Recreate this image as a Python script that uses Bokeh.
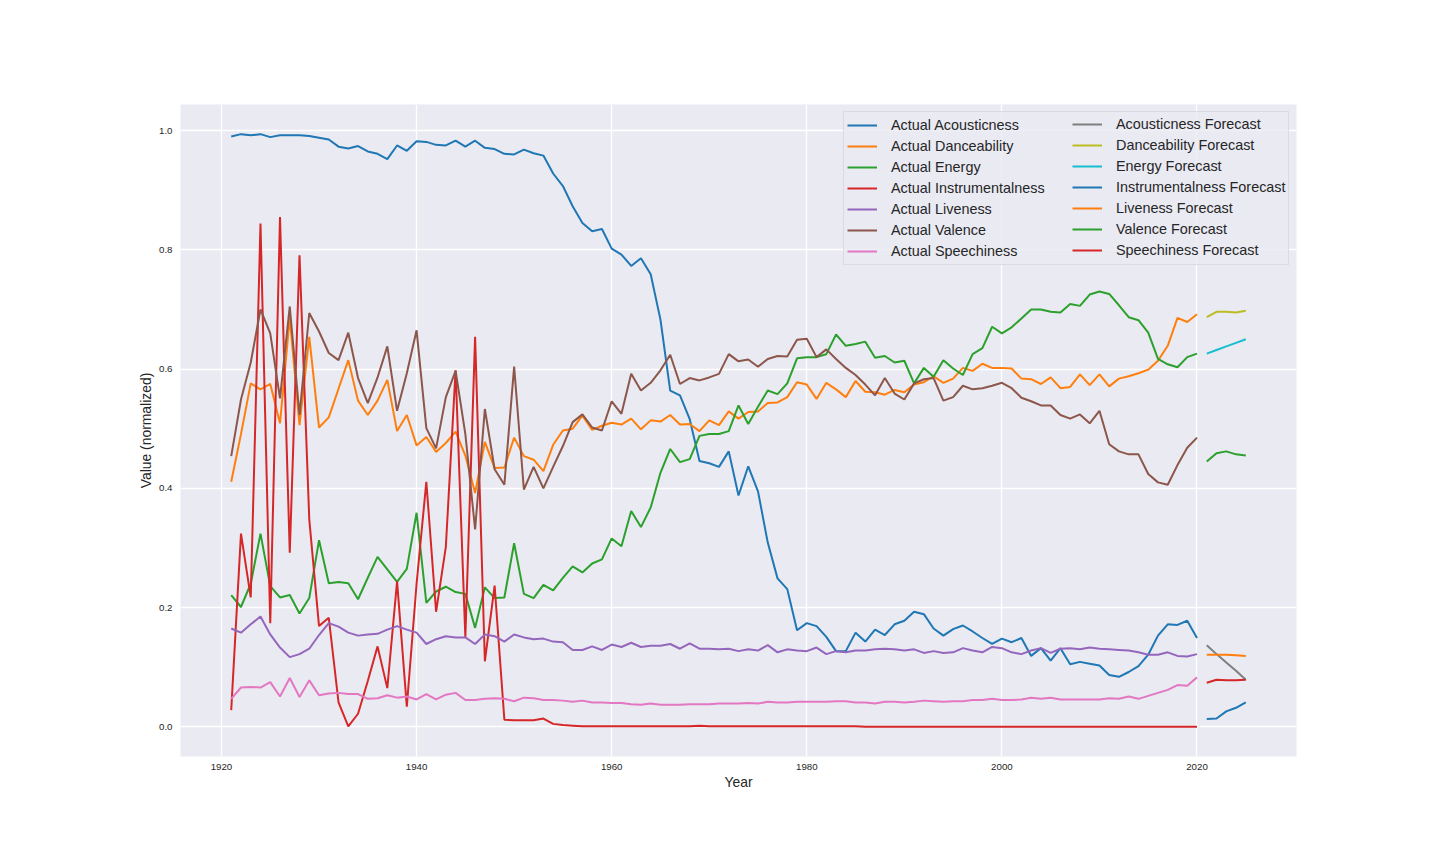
from bokeh.plotting import figure
from bokeh.models import Legend, LegendItem, FixedTicker, NumeralTickFormatter, Range1d
from bokeh.embed import file_html
from bokeh.resources import INLINE

years = list(range(1921, 2021))
fc_years = [2021, 2022, 2023, 2024, 2025]

acousticness = [
    0.990, 0.994, 0.992, 0.994, 0.989, 0.992, 0.992, 0.992, 0.991, 0.988,
    0.985, 0.973, 0.970, 0.974, 0.965, 0.961, 0.952, 0.975, 0.966, 0.982,
    0.981, 0.976, 0.975, 0.983, 0.973, 0.983, 0.971, 0.969, 0.961, 0.960,
    0.968, 0.962, 0.958, 0.928, 0.907, 0.873, 0.845, 0.831, 0.835, 0.802,
    0.792, 0.773, 0.786, 0.759, 0.683, 0.564, 0.556, 0.516, 0.446, 0.442,
    0.436, 0.462, 0.388, 0.437, 0.395, 0.309, 0.249, 0.231, 0.162, 0.174,
    0.169, 0.151, 0.127, 0.127, 0.158, 0.143, 0.163, 0.154, 0.172, 0.178,
    0.193, 0.189, 0.165, 0.153, 0.164, 0.170, 0.160, 0.149, 0.139, 0.148,
    0.142, 0.149, 0.119, 0.132, 0.111, 0.132, 0.105, 0.109, 0.106, 0.103,
    0.087, 0.084, 0.092, 0.102, 0.121, 0.153, 0.172, 0.171, 0.178, 0.149,
]
danceability = [
    0.411, 0.491, 0.576, 0.566, 0.575, 0.509, 0.686, 0.506, 0.654, 0.502,
    0.519, 0.567, 0.615, 0.547, 0.523, 0.547, 0.582, 0.496, 0.523, 0.472,
    0.486, 0.461, 0.476, 0.495, 0.455, 0.392, 0.478, 0.434, 0.435, 0.485,
    0.454, 0.448, 0.429, 0.473, 0.497, 0.500, 0.522, 0.498, 0.505, 0.510,
    0.507, 0.517, 0.499, 0.514, 0.512, 0.523, 0.507, 0.508, 0.496, 0.514,
    0.506, 0.529, 0.517, 0.528, 0.529, 0.543, 0.544, 0.553, 0.578, 0.574,
    0.550, 0.577, 0.566, 0.553, 0.580, 0.562, 0.561, 0.557, 0.565, 0.561,
    0.574, 0.578, 0.588, 0.577, 0.584, 0.602, 0.597, 0.609, 0.602, 0.602,
    0.601, 0.584, 0.583, 0.575, 0.586, 0.568, 0.570, 0.591, 0.573, 0.591,
    0.571, 0.584, 0.588, 0.593, 0.599, 0.614, 0.639, 0.686, 0.679, 0.692,
]
energy = [
    0.221, 0.201, 0.240, 0.324, 0.236, 0.217, 0.221, 0.190, 0.216, 0.313,
    0.241, 0.243, 0.241, 0.214, 0.250, 0.285, 0.264, 0.243, 0.265, 0.359,
    0.208, 0.227, 0.235, 0.226, 0.223, 0.166, 0.234, 0.216, 0.217, 0.308,
    0.223, 0.216, 0.238, 0.229, 0.250, 0.269, 0.259, 0.274, 0.281, 0.316,
    0.303, 0.362, 0.335, 0.368, 0.426, 0.466, 0.444, 0.449, 0.488, 0.491,
    0.491, 0.496, 0.539, 0.508, 0.537, 0.564, 0.558, 0.576, 0.618, 0.620,
    0.620, 0.625, 0.658, 0.639, 0.642, 0.646, 0.619, 0.622, 0.611, 0.614,
    0.576, 0.602, 0.587, 0.615, 0.601, 0.590, 0.625, 0.635, 0.671, 0.660,
    0.670, 0.685, 0.700, 0.700, 0.696, 0.695, 0.709, 0.706, 0.725, 0.730,
    0.726, 0.707, 0.687, 0.682, 0.661, 0.617, 0.608, 0.603, 0.620, 0.626,
]
instrumentalness = [
    0.028, 0.324, 0.217, 0.844, 0.174, 0.855, 0.292, 0.791, 0.348, 0.169,
    0.183, 0.041, 0.001, 0.022, 0.077, 0.135, 0.065, 0.244, 0.034, 0.240,
    0.411, 0.193, 0.302, 0.598, 0.150, 0.654, 0.110, 0.237, 0.012, 0.011,
    0.011, 0.011, 0.014, 0.005, 0.003, 0.002, 0.001, 0.001, 0.001, 0.001,
    0.001, 0.001, 0.001, 0.001, 0.001, 0.001, 0.001, 0.001, 0.002, 0.001,
    0.001, 0.001, 0.001, 0.001, 0.001, 0.001, 0.001, 0.001, 0.001, 0.001,
    0.001, 0.001, 0.001, 0.001, 0.001, 0.000, 0.000, 0.000, 0.000, 0.000,
    0.000, 0.000, 0.000, 0.000, 0.000, 0.000, 0.000, 0.000, 0.000, 0.000,
    0.000, 0.000, 0.000, 0.000, 0.000, 0.000, 0.000, 0.000, 0.000, 0.000,
    0.000, 0.000, 0.000, 0.000, 0.000, 0.000, 0.000, 0.000, 0.000, 0.000,
]
liveness = [
    0.165, 0.158, 0.172, 0.185, 0.155, 0.133, 0.117, 0.122, 0.131, 0.154,
    0.174, 0.168, 0.158, 0.153, 0.155, 0.156, 0.163, 0.169, 0.163, 0.158,
    0.139, 0.147, 0.152, 0.150, 0.150, 0.139, 0.155, 0.152, 0.143, 0.155,
    0.150, 0.147, 0.148, 0.143, 0.142, 0.129, 0.129, 0.135, 0.129, 0.138,
    0.134, 0.141, 0.134, 0.136, 0.136, 0.139, 0.131, 0.140, 0.131, 0.131,
    0.130, 0.131, 0.127, 0.130, 0.128, 0.137, 0.125, 0.130, 0.128, 0.127,
    0.133, 0.122, 0.127, 0.125, 0.128, 0.128, 0.130, 0.131, 0.130, 0.128,
    0.130, 0.124, 0.127, 0.124, 0.125, 0.132, 0.128, 0.125, 0.134, 0.132,
    0.125, 0.122, 0.128, 0.132, 0.124, 0.131, 0.132, 0.130, 0.133, 0.131,
    0.130, 0.129, 0.128, 0.125, 0.121, 0.121, 0.125, 0.119, 0.118, 0.122,
]
valence = [
    0.454, 0.549, 0.611, 0.700, 0.660, 0.551, 0.705, 0.523, 0.694, 0.663,
    0.627, 0.615, 0.661, 0.585, 0.543, 0.586, 0.638, 0.530, 0.593, 0.665,
    0.501, 0.467, 0.553, 0.597, 0.491, 0.331, 0.533, 0.432, 0.406, 0.604,
    0.398, 0.436, 0.400, 0.436, 0.471, 0.511, 0.524, 0.502, 0.497, 0.546,
    0.525, 0.592, 0.564, 0.577, 0.598, 0.624, 0.575, 0.585, 0.581, 0.586,
    0.592, 0.625, 0.613, 0.616, 0.604, 0.617, 0.622, 0.621, 0.649, 0.651,
    0.620, 0.633, 0.617, 0.602, 0.590, 0.574, 0.556, 0.585, 0.559, 0.549,
    0.576, 0.583, 0.585, 0.547, 0.553, 0.572, 0.566, 0.568, 0.572, 0.577,
    0.568, 0.552, 0.546, 0.539, 0.539, 0.523, 0.517, 0.524, 0.509, 0.530,
    0.474, 0.462, 0.457, 0.457, 0.424, 0.410, 0.406, 0.439, 0.468, 0.485,
]
speechiness = [
    0.047, 0.066, 0.067, 0.066, 0.075, 0.051, 0.082, 0.050, 0.078, 0.053,
    0.056, 0.057, 0.055, 0.055, 0.047, 0.048, 0.053, 0.049, 0.051, 0.046,
    0.055, 0.046, 0.054, 0.057, 0.045, 0.045, 0.047, 0.048, 0.047, 0.043,
    0.049, 0.048, 0.045, 0.045, 0.044, 0.042, 0.044, 0.041, 0.041, 0.040,
    0.040, 0.038, 0.037, 0.039, 0.037, 0.037, 0.037, 0.038, 0.038, 0.038,
    0.039, 0.039, 0.039, 0.040, 0.039, 0.042, 0.041, 0.041, 0.042, 0.042,
    0.042, 0.042, 0.043, 0.043, 0.041, 0.041, 0.039, 0.042, 0.042, 0.041,
    0.042, 0.044, 0.043, 0.042, 0.043, 0.043, 0.045, 0.045, 0.047, 0.045,
    0.045, 0.046, 0.049, 0.047, 0.049, 0.046, 0.046, 0.046, 0.046, 0.046,
    0.048, 0.047, 0.051, 0.047, 0.052, 0.057, 0.062, 0.070, 0.069, 0.083,
]

acousticness_fc = [0.137, 0.122, 0.108, 0.094, 0.079]
danceability_fc = [0.687, 0.696, 0.696, 0.695, 0.698]
energy_fc = [0.626, 0.632, 0.638, 0.644, 0.650]
instrumentalness_fc = [0.013, 0.014, 0.026, 0.032, 0.041]
liveness_fc = [0.121, 0.121, 0.121, 0.120, 0.119]
valence_fc = [0.445, 0.459, 0.462, 0.457, 0.455]
speechiness_fc = [0.074, 0.079, 0.078, 0.078, 0.079]

actual_labels = ["Actual Acousticness", "Actual Danceability", "Actual Energy",
                 "Actual Instrumentalness", "Actual Liveness", "Actual Valence",
                 "Actual Speechiness"]
forecast_labels = ["Acousticness Forecast", "Danceability Forecast", "Energy Forecast",
                   "Instrumentalness Forecast", "Liveness Forecast", "Valence Forecast",
                   "Speechiness Forecast"]
x_ticks = [1920, 1940, 1960, 1980, 2000, 2020]
y_ticks = [0.0, 0.2, 0.4, 0.6, 0.8, 1.0]

tab10 = ["#1f77b4", "#ff7f0e", "#2ca02c", "#d62728", "#9467bd",
         "#8c564b", "#e377c2", "#7f7f7f", "#bcbd22", "#17becf"]

actual_series = [acousticness, danceability, energy, instrumentalness,
                 liveness, valence, speechiness]
forecast_series = [acousticness_fc, danceability_fc, energy_fc, instrumentalness_fc,
                   liveness_fc, valence_fc, speechiness_fc]

FONT = "Liberation Sans"
TXT = "#262626"

p = figure(frame_width=1116, frame_height=652,
           min_border_left=180, min_border_right=128,
           min_border_top=104, min_border_bottom=92,
           output_backend="svg", toolbar_location=None,
           x_range=Range1d(1915.8, 2030.2), y_range=Range1d(-0.0497, 1.0437))

p.background_fill_color = "#eaeaf2"
p.border_fill_color = "white"
p.outline_line_color = None

p.xgrid.ticker = FixedTicker(ticks=x_ticks)
p.ygrid.ticker = FixedTicker(ticks=y_ticks)
for g in (p.xgrid, p.ygrid):
    g.grid_line_color = "white"
    g.grid_line_width = 1.3

p.xaxis.ticker = FixedTicker(ticks=x_ticks)
p.yaxis.ticker = FixedTicker(ticks=y_ticks)
p.yaxis.formatter = NumeralTickFormatter(format="0.0")
for ax in (p.xaxis, p.yaxis):
    ax.axis_line_color = None
    ax.major_tick_line_color = None
    ax.minor_tick_line_color = None
    ax.major_label_text_font = FONT
    ax.major_label_text_font_size = "9.7px"
    ax.major_label_text_color = TXT
    ax.axis_label_text_font = FONT
    ax.axis_label_text_font_size = "13.9px"
    ax.axis_label_text_font_style = "normal"
    ax.axis_label_text_color = TXT
p.xaxis.axis_label = "Year"
p.yaxis.axis_label = "Value (normalized)"
p.xaxis.major_label_standoff = 1
p.xaxis.axis_label_standoff = 1
p.yaxis.major_label_standoff = 2
p.yaxis.axis_label_standoff = 2

actual_items = []
for i, (lab, ys) in enumerate(zip(actual_labels, actual_series)):
    r = p.line(years, ys, line_color=tab10[i], line_width=2)
    actual_items.append(LegendItem(label=lab, renderers=[r]))

fc_colors = [tab10[7], tab10[8], tab10[9], tab10[0], tab10[1], tab10[2], tab10[3]]
fc_items = []
for lab, ys, c in zip(forecast_labels, forecast_series, fc_colors):
    r = p.line(fc_years, ys, line_color=c, line_width=2)
    fc_items.append(LegendItem(label=lab, renderers=[r]))

def style_legend(lg):
    lg.location = "top_right"
    lg.margin = 7
    lg.padding = 3
    lg.spacing = 1
    lg.glyph_width = 30
    lg.glyph_height = 20
    lg.label_height = 20
    lg.label_standoff = 14
    lg.label_text_font = FONT
    lg.label_text_font_size = "14.4px"
    lg.label_text_color = TXT

leg_a = Legend(items=actual_items)
style_legend(leg_a)
leg_a.label_width = 394
leg_a.border_line_color = "#cccccc"
leg_a.border_line_width = 1
leg_a.background_fill_color = "#eaeaf2"
leg_a.background_fill_alpha = 0.8

leg_b = Legend(items=fc_items)
style_legend(leg_b)
leg_b.label_width = 170
leg_b.border_line_alpha = 0
leg_b.background_fill_alpha = 0

p.add_layout(leg_a, "center")
p.add_layout(leg_b, "center")

open("out.html", "w").write(file_html(p, INLINE))
